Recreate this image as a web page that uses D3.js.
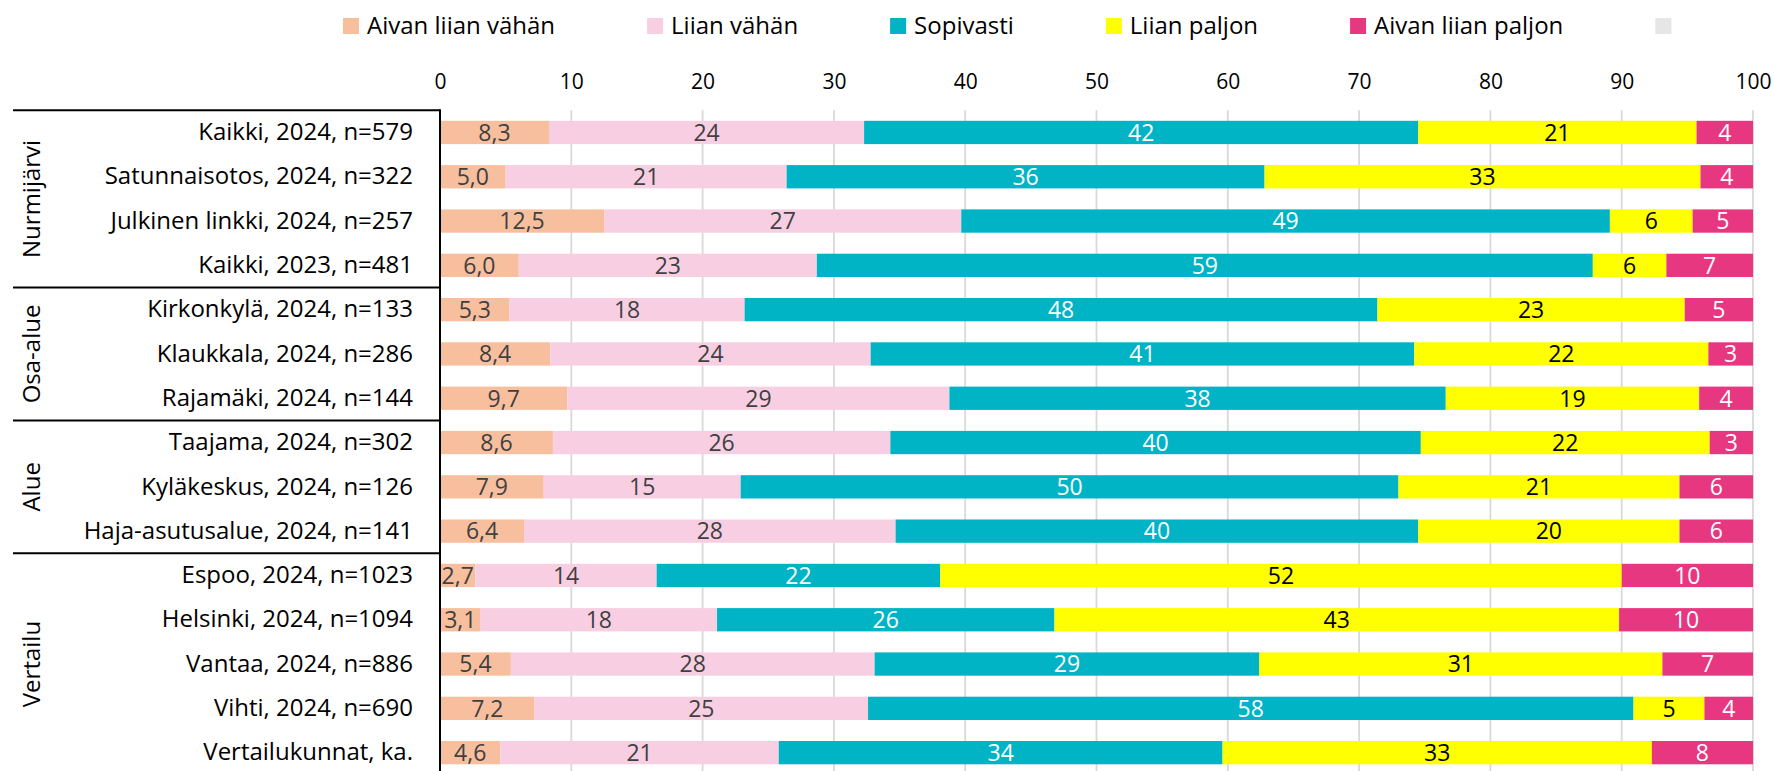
<!DOCTYPE html>
<html lang="fi">
<head>
<meta charset="utf-8">
<script src="https://cdn.jsdelivr.net/npm/d3@7"></script>
<style>
  html, body { margin: 0; padding: 0; background: #fff; }
  svg { display: block; font-family: "Open Sans", "Noto Sans", sans-serif; }
</style>
</head>
<body>
<svg id="chart" width="1774" height="771"></svg>
<script>
// Vastaukset: kuinka paljon (%) – kategoriat ylhäältä alas
const categories = [
  "Kaikki, 2024, n=579",
  "Satunnaisotos, 2024, n=322",
  "Julkinen linkki, 2024, n=257",
  "Kaikki, 2023, n=481",
  "Kirkonkylä, 2024, n=133",
  "Klaukkala, 2024, n=286",
  "Rajamäki, 2024, n=144",
  "Taajama, 2024, n=302",
  "Kyläkeskus, 2024, n=126",
  "Haja-asutusalue, 2024, n=141",
  "Espoo, 2024, n=1023",
  "Helsinki, 2024, n=1094",
  "Vantaa, 2024, n=886",
  "Vihti, 2024, n=690",
  "Vertailukunnat, ka."
];

const groups = [
  { name: "Nurmijärvi", size: 4 },
  { name: "Osa-alue", size: 3 },
  { name: "Alue", size: 3 },
  { name: "Vertailu", size: 5 }
];

const seriesNames = ["Aivan liian vähän", "Liian vähän", "Sopivasti", "Liian paljon", "Aivan liian paljon", ""];

const aivanLiianVahan = [8.3, 5.0, 12.5, 6.0, 5.3, 8.4, 9.7, 8.6, 7.9, 6.4, 2.7, 3.1, 5.4, 7.2, 4.6];
const liianVahan      = [24.0, 21.4, 27.2, 22.7, 17.9, 24.4, 29.1, 25.7, 15.0, 28.3, 13.8, 18.0, 27.7, 25.4, 21.2];
const sopivasti       = [42.2, 36.4, 49.4, 59.1, 48.2, 41.4, 37.8, 40.4, 50.1, 39.8, 21.6, 25.7, 29.3, 58.3, 33.8];
const liianPaljon     = [21.2, 33.2, 6.3, 5.6, 23.4, 22.4, 19.3, 22.0, 21.4, 19.9, 51.9, 43.0, 30.7, 5.4, 32.7];
const aivanLiianPaljon= [4.3, 4.0, 4.6, 6.6, 5.2, 3.4, 4.1, 3.3, 5.6, 5.6, 10.0, 10.2, 6.9, 3.7, 7.7];
const eiVastausta     = [0, 0, 0, 0, 0, 0, 0, 0, 0, 0, 0, 0, 0, 0, 0];

const xTicks = [0, 10, 20, 30, 40, 50, 60, 70, 80, 90, 100];

const seriesValues = [aivanLiianVahan, liianVahan, sopivasti, liianPaljon, aivanLiianPaljon, eiVastausta];
const seriesColors = ["#F8BF9E", "#F8CFE2", "#00B4C6", "#FFFF00", "#E83781", "#E6E6E6"];
const labelColors  = ["#404040", "#404040", "#FFFFFF", "#000000", "#FFFFFF", "#404040"];

const svg = d3.select("#chart");

const plotLeft = 440, plotRight = 1753, plotTop = 110.3;
const rowStep = 44.3;
const plotBottom = plotTop + rowStep * categories.length;

const x = d3.scaleLinear().domain([0, 100]).range([plotLeft, plotRight]);
const y = d3.scaleBand().domain(categories).range([plotTop, plotBottom])
  .paddingInner(0.474).paddingOuter(0.237);

const fiLocale = d3.formatLocale({ decimal: ",", thousands: "\u00a0", grouping: [3], currency: ["", " €"] });
const fmt1 = fiLocale.format(".1f");
const fmt0 = fiLocale.format(".0f");

// Table of rows with keys for stacking
const table = categories.map((c, i) => {
  const row = { category: c };
  seriesNames.forEach((s, k) => { row["s" + k] = seriesValues[k][i]; });
  return row;
});
const keys = seriesNames.map((s, k) => "s" + k);
const stacked = d3.stack().keys(keys)(table);

// Gridlines
svg.append("g")
  .selectAll("line")
  .data(xTicks.filter(t => t > 0))
  .join("line")
  .attr("x1", d => x(d)).attr("x2", d => x(d))
  .attr("y1", plotTop).attr("y2", plotBottom)
  .attr("stroke", "#D9D9D9").attr("stroke-width", 1.8);

// Top axis labels
const xAxis = d3.axisTop(x).tickValues(xTicks).tickSize(0).tickPadding(0).tickFormat(d3.format("d"));
const gx = svg.append("g").attr("transform", `translate(0,89)`).call(xAxis);
gx.select(".domain").remove();
gx.selectAll("text").attr("font-size", 21).attr("fill", "#000").attr("font-family", "Open Sans");

// Stacked bars
const layers = svg.append("g").selectAll("g")
  .data(stacked)
  .join("g")
  .attr("fill", (d, k) => seriesColors[k]);

layers.selectAll("rect")
  .data(d => d)
  .join("rect")
  .attr("x", d => x(d[0]))
  .attr("y", d => y(d.data.category))
  .attr("width", d => Math.max(0, x(d[1]) - x(d[0])))
  .attr("height", y.bandwidth());

// Segment value labels
const labelLayers = svg.append("g").selectAll("g")
  .data(stacked)
  .join("g")
  .attr("fill", (d, k) => labelColors[k]);

labelLayers.each(function (layer, k) {
  d3.select(this).selectAll("text")
    .data(layer.filter(d => d[1] - d[0] > 0))
    .join("text")
    .attr("x", d => (x(d[0]) + x(d[1])) / 2)
    .attr("y", d => y(d.data.category) + y.bandwidth() / 2)
    .attr("dy", "0.36em")
    .attr("text-anchor", "middle")
    .attr("font-size", 23)
    .text(d => (k === 0 ? fmt1 : fmt0)(d[1] - d[0]));
});

// Category labels
const yAxis = d3.axisLeft(y).tickSize(0).tickPadding(27);
const gy = svg.append("g").attr("transform", `translate(${plotLeft},0)`).call(yAxis);
gy.select(".domain").remove();
gy.selectAll("text").attr("font-size", 24).attr("fill", "#000").attr("font-family", "Open Sans");

// Vertical axis line
svg.append("line")
  .attr("x1", plotLeft).attr("x2", plotLeft)
  .attr("y1", plotTop - 1).attr("y2", plotBottom)
  .attr("stroke", "#000").attr("stroke-width", 2);

// Group separators and rotated group titles
let start = 0;
const groupG = svg.append("g");
groups.forEach(g => {
  const yTop = plotTop + start * rowStep;
  const yBot = plotTop + (start + g.size) * rowStep;
  groupG.append("line")
    .attr("x1", 13).attr("x2", plotLeft)
    .attr("y1", yTop).attr("y2", yTop)
    .attr("stroke", "#000").attr("stroke-width", 2);
  groupG.append("text")
    .attr("transform", `translate(40,${(yTop + yBot) / 2}) rotate(-90)`)
    .attr("text-anchor", "middle")
    .attr("font-size", 24)
    .attr("fill", "#000")
    .text(g.name);
  start += g.size;
});

// Legend
const legend = svg.append("g");
let lx = 343;
seriesNames.forEach((name, k) => {
  legend.append("rect")
    .attr("x", lx).attr("y", 18)
    .attr("width", 16).attr("height", 16)
    .attr("fill", seriesColors[k]);
  const t = legend.append("text")
    .attr("x", lx + 24).attr("y", 33.5)
    .attr("font-size", 24).attr("fill", "#000")
    .text(name);
  const w = name ? t.node().getComputedTextLength() : 0;
  lx = lx + 24 + w + 92;
});
</script>
</body>
</html>
